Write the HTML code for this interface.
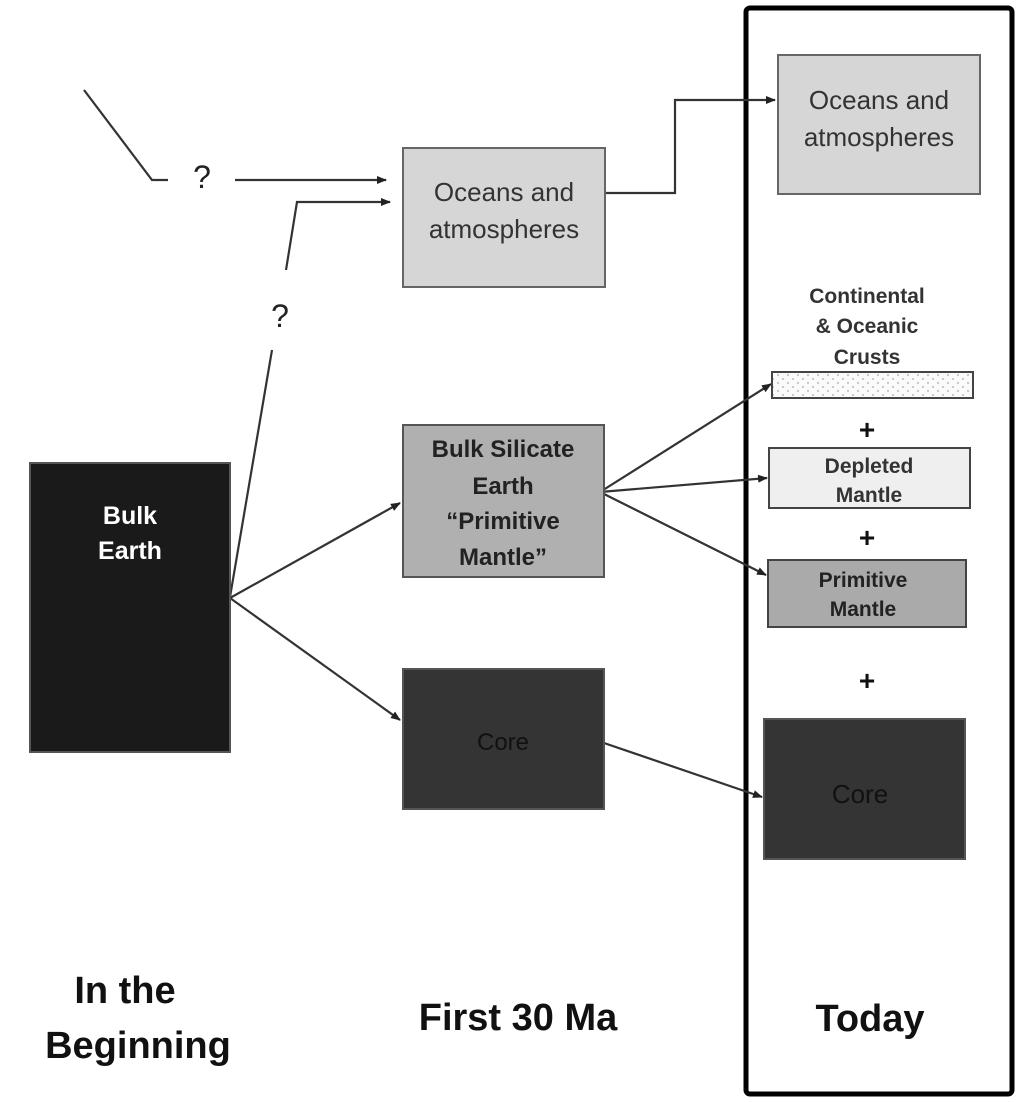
<!DOCTYPE html>
<html><head><meta charset="utf-8"><style>html,body{margin:0;padding:0;background:#fff}svg{display:block}</style></head><body>
<svg width="1026" height="1102" viewBox="0 0 1026 1102" xmlns="http://www.w3.org/2000/svg" font-family="Liberation Sans, Arial, sans-serif">
<defs>
<marker id="a" markerWidth="10" markerHeight="8" refX="9" refY="4" orient="auto" markerUnits="userSpaceOnUse"><path d="M0,0 L10,4 L0,8 z" fill="#222"/></marker>
<pattern id="dots" width="10" height="8" patternUnits="userSpaceOnUse"><rect width="10" height="8" fill="#fafafa"/><circle cx="3" cy="3" r="1" fill="#bbb"/><circle cx="8" cy="7" r="1" fill="#bbb"/></pattern>
</defs>
<rect x="746" y="8" width="266" height="1086" rx="4" fill="none" stroke="#000" stroke-width="5"/>
<g stroke="#333" stroke-width="2.2" fill="none">
<polyline points="84,90 152,180 168,180"/>
<line x1="235" y1="180" x2="386" y2="180" marker-end="url(#a)"/>
<polyline points="286,270 297,202 390,202" marker-end="url(#a)"/>
<line x1="272" y1="350" x2="230" y2="597"/>
<line x1="230" y1="598" x2="400" y2="503" marker-end="url(#a)"/>
<line x1="230" y1="598" x2="400" y2="720" marker-end="url(#a)"/>
<polyline points="605,193 675,193 675,100 775,100" marker-end="url(#a)"/>
<line x1="600" y1="492" x2="771" y2="384" marker-end="url(#a)"/>
<line x1="600" y1="492" x2="767" y2="478" marker-end="url(#a)"/>
<line x1="600" y1="492" x2="766" y2="575" marker-end="url(#a)"/>
<line x1="604" y1="743" x2="762" y2="797" marker-end="url(#a)"/>
</g>
<text x="202" y="188" font-size="32" text-anchor="middle" fill="#222">?</text>
<text x="280" y="327" font-size="32" text-anchor="middle" fill="#222">?</text>
<rect x="30" y="463" width="200" height="289" fill="#1a1a1a" stroke="#555" stroke-width="2"/>
<text x="130" y="524" font-size="25" font-weight="bold" text-anchor="middle" fill="#fff">Bulk</text>
<text x="130" y="559" font-size="25" font-weight="bold" text-anchor="middle" fill="#fff">Earth</text>
<rect x="403" y="148" width="202" height="139" fill="#d6d6d6" stroke="#666" stroke-width="2"/>
<text x="504" y="201" font-size="26" text-anchor="middle" fill="#333">Oceans and</text>
<text x="504" y="238" font-size="26" text-anchor="middle" fill="#333">atmospheres</text>
<rect x="778" y="55" width="202" height="139" fill="#d6d6d6" stroke="#666" stroke-width="2"/>
<text x="879" y="109" font-size="26" text-anchor="middle" fill="#333">Oceans and</text>
<text x="879" y="146" font-size="26" text-anchor="middle" fill="#333">atmospheres</text>
<rect x="403" y="425" width="201" height="152" fill="#b0b0b0" stroke="#555" stroke-width="2"/>
<g font-size="24" font-weight="bold" text-anchor="middle" fill="#222">
<text x="503" y="457">Bulk Silicate</text><text x="503" y="494">Earth</text><text x="503" y="529">“Primitive</text><text x="503" y="565">Mantle”</text></g>
<rect x="403" y="669" width="201" height="140" fill="#343434" stroke="#555" stroke-width="2"/>
<text x="503" y="750" font-size="24" text-anchor="middle" fill="#111">Core</text>
<rect x="764" y="719" width="201" height="140" fill="#343434" stroke="#555" stroke-width="2"/>
<text x="860" y="803" font-size="26" text-anchor="middle" fill="#111">Core</text>
<g font-size="21" font-weight="bold" text-anchor="middle" fill="#333">
<text x="867" y="303">Continental</text><text x="867" y="333">&amp; Oceanic</text><text x="867" y="364">Crusts</text></g>
<rect x="772" y="372" width="201" height="26" fill="url(#dots)" stroke="#444" stroke-width="2"/>
<g font-size="28" font-weight="bold" text-anchor="middle" fill="#111">
<text x="867" y="439">+</text><text x="867" y="547">+</text><text x="867" y="690">+</text></g>
<rect x="769" y="448" width="201" height="60" fill="#efefef" stroke="#444" stroke-width="2"/>
<text x="869" y="473" font-size="21" font-weight="bold" text-anchor="middle" fill="#333">Depleted</text>
<text x="869" y="502" font-size="21" font-weight="bold" text-anchor="middle" fill="#333">Mantle</text>
<rect x="768" y="560" width="198" height="67" fill="#aaaaaa" stroke="#444" stroke-width="2"/>
<text x="863" y="587" font-size="21" font-weight="bold" text-anchor="middle" fill="#222">Primitive</text>
<text x="863" y="616" font-size="21" font-weight="bold" text-anchor="middle" fill="#222">Mantle</text>
<g font-size="38" font-weight="bold" text-anchor="middle" fill="#111">
<text x="125" y="1003">In the</text><text x="138" y="1058">Beginning</text>
<text x="518" y="1030">First 30 Ma</text>
<text x="870" y="1031">Today</text></g>
</svg>
</body></html>
